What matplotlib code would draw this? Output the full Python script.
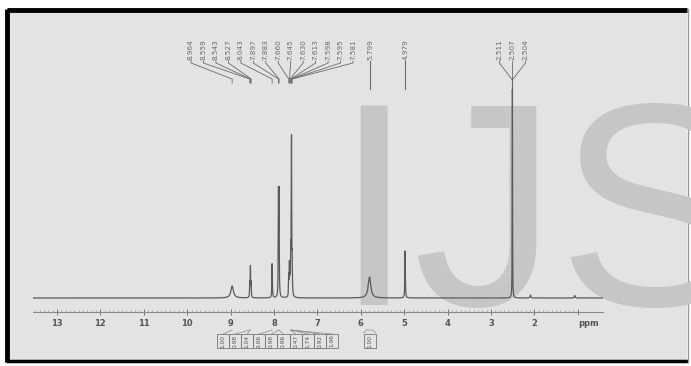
import numpy as np
import matplotlib.pyplot as plt
from matplotlib.patches import Rectangle

# Peak list: (shift ppm, amplitude, half width)
peak_ppm = [8.964, 8.559, 8.543, 8.527, 8.043, 7.897, 7.883,
            7.660, 7.645, 7.630, 7.613, 7.598, 7.595, 7.581,
            5.799, 4.979, 2.511, 2.507, 2.504, 2.09, 1.07]
peak_amp = [12, 14, 30, 14, 34, 100, 100,
            20, 30, 25, 40, 85, 85, 30,
            21, 47, 80, 140, 80, 3, 2.5]
peak_hw = [0.035, 0.005, 0.005, 0.005, 0.006, 0.005, 0.005,
           0.005, 0.005, 0.005, 0.005, 0.005, 0.005, 0.005,
           0.035, 0.006, 0.003, 0.003, 0.003, 0.01, 0.01]

# labelled shifts, grouped as drawn on the top
label_groups = [
    ['8.964', '8.559', '8.543', '8.527', '8.043', '7.897', '7.883',
     '7.660', '7.645', '7.630', '7.613', '7.598', '7.595', '7.581'],
    ['5.799'],
    ['4.979'],
    ['2.511', '2.507', '2.504'],
]
group_target = [None, 5.799, 4.979, 2.507]

# integrals
integ_vals = ['1.00', '0.98', '1.04', '2.06', '0.98', '0.96', '0.47', '1.74', '0.92', '1.96']
integ_ppm = [8.964, 8.55, 8.55, 8.043, 7.89, 7.89, 7.62, 7.62, 7.60, 7.60]
integ2_val = '1.00'
integ2_ppm = 5.799

major_ticks = list(range(2, 14))

W, H = 691, 366
fig = plt.figure(figsize=(W / 100, H / 100), dpi=100)
fig.patch.set_facecolor('white')

# background frame + watermark
bg = fig.add_axes([0, 0, 1, 1], zorder=0)
bg.set_xlim(0, W); bg.set_ylim(H, 0); bg.axis('off')
bg.add_patch(Rectangle((7, 10), 680, 350, facecolor='#e3e3e3', edgecolor='none'))
bg.plot([7, 687], [10, 10], color='black', lw=3.5, solid_capstyle='butt')
bg.plot([7, 7], [9, 362], color='black', lw=3.5, solid_capstyle='butt')
bg.plot([6, 688], [361, 361], color='black', lw=2.5, solid_capstyle='butt')
bg.plot([688, 688], [9, 362], color='#9a9a9a', lw=1)
bg.text(333, 305, 'IJS', fontsize=208, family='Liberation Sans',
        color='#c6c6c6', ha='left', va='baseline', clip_on=True)

# spectrum axes
x0, x1 = 33, 603
ytop, yax = 83, 312
ax = fig.add_axes([x0 / W, (H - yax) / H, (x1 - x0) / W, (yax - ytop) / H], zorder=1)
ax.set_facecolor('none')
ax.set_xlim(13 + (57 - x0) / 43.4, 13 - (x1 - 57) / 43.4)
ax.set_ylim(-14, 215)

ppm = np.linspace(0.3, 13.7, 40000)
spec = np.zeros_like(ppm)
for p, a, w in zip(peak_ppm, peak_amp, peak_hw):
    spec += a / (1 + ((ppm - p) / w) ** 2)
ax.plot(ppm, spec, color='#5a5a5a', lw=0.9)

for s in ['left', 'right', 'top']:
    ax.spines[s].set_visible(False)
ax.spines['bottom'].set_color('#888888')
ax.spines['bottom'].set_linewidth(0.8)
ax.set_yticks([])
ax.set_xticks(major_ticks + [1])
ax.set_xticklabels([str(t) for t in major_ticks] + [''], fontsize=6, fontweight='bold', color='#555555')
ax.set_xticks(np.arange(1, 13.6, 0.1), minor=True)
ax.tick_params(axis='x', which='major', direction='inout', length=4, width=0.7, color='#777777', pad=3)
ax.tick_params(axis='x', which='minor', direction='in', length=1.8, width=0.5, color='#999999')
ax.annotate('ppm', xy=(0.75, 0), xycoords=('data', 'axes fraction'), xytext=(0, -5),
            textcoords='offset points', ha='center', va='top', fontsize=6,
            fontweight='bold', color='#555555')

# overlay for labels in pixel coords
ov = fig.add_axes([0, 0, 1, 1], zorder=2)
ov.set_xlim(0, W); ov.set_ylim(H, 0); ov.axis('off')


def px(p):
    return ax.transData.transform((p, 0))[0]


lc = '#6a6a6a'
lab_bot = 60

# aromatic group, evenly spaced labels fanning to peaks
grp = label_groups[0]
xs = np.linspace(191, 353, len(grp))
for xl, t in zip(xs, grp):
    xp = px(float(t))
    ov.text(xl, lab_bot, t, rotation=90, fontsize=5.2, color=lc, ha='center', va='bottom')
    ov.plot([xl, xl, xp, xp], [lab_bot + 1, lab_bot + 3, 79, 83], color=lc, lw=0.6)

# single labels
for grp, tgt in zip(label_groups[1:3], group_target[1:3]):
    xp = px(tgt)
    ov.text(xp + 1, lab_bot, grp[0], rotation=90, fontsize=5.2, color=lc, ha='center', va='bottom')
    ov.plot([xp, xp], [lab_bot + 1, 89], color=lc, lw=0.8)

# DMSO triplet
grp = label_groups[3]
xc = px(group_target[3])
xs = [xc - 13, xc, xc + 13]
for xl, t in zip(xs, grp):
    ov.text(xl, lab_bot, t, rotation=90, fontsize=5.2, color=lc, ha='center', va='bottom')
    ov.plot([xl, xl, xc], [lab_bot + 1, lab_bot + 3, 80], color=lc, lw=0.6)
ov.plot([xc, xc], [80, 88], color=lc, lw=0.8)

# integral boxes
bw, by, bh = 12.1, 334, 14
bx0 = 217
for i, v in enumerate(integ_vals):
    bx = bx0 + i * bw
    ov.add_patch(Rectangle((bx, by), bw, bh, facecolor='none', edgecolor='#777777', lw=0.6))
    ov.text(bx + bw / 2, by + bh / 2, v, rotation=90, fontsize=4.2, color='#555555',
            ha='center', va='center')
    xp = px(integ_ppm[i])
    ov.plot([bx + bw / 2, xp], [by, 330], color='#888888', lw=0.5)
xp = px(integ2_ppm)
ov.add_patch(Rectangle((xp - 6, by), 12, bh, facecolor='none', edgecolor='#777777', lw=0.6))
ov.text(xp, by + bh / 2, integ2_val, rotation=90, fontsize=4.2, color='#555555',
        ha='center', va='center')
ov.plot([xp - 6, xp - 3, xp + 3, xp + 6], [by - 1, 330, 330, by - 1], color='#888888', lw=0.5)

fig.savefig('out.png', dpi=100)
